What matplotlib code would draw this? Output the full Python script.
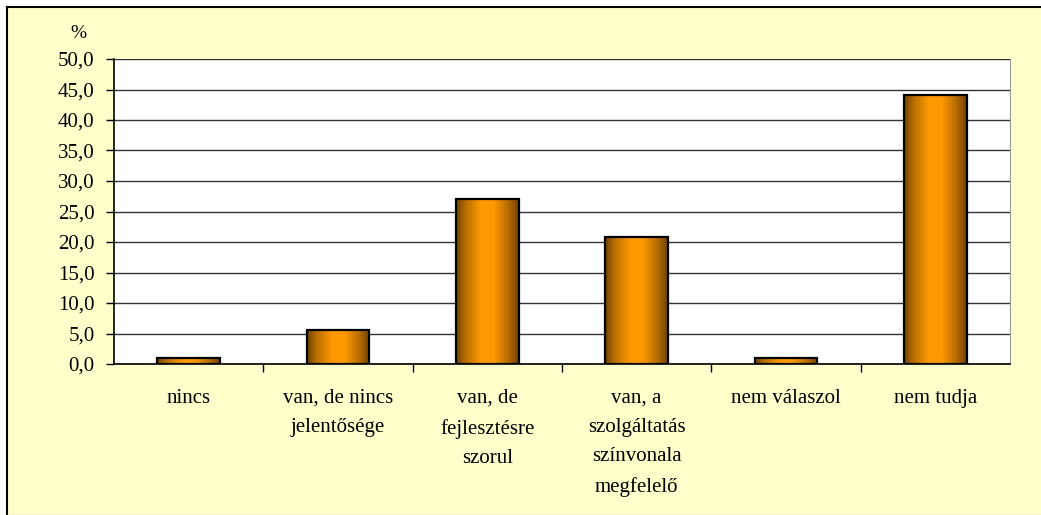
import numpy as np
import matplotlib.pyplot as plt
from matplotlib.patches import Rectangle
from matplotlib.colors import LinearSegmentedColormap
from matplotlib.ticker import FuncFormatter, FixedLocator

plt.rcParams['font.family'] = ['Liberation Serif', 'DejaVu Serif']

categories = ['nincs', 'van, de nincs\njelentősége', 'van, de\nfejlesztésre\nszorul',
              'van, a\nszolgáltatás\nszínvonala\nmegfelelő', 'nem válaszol', 'nem tudja']
values = [1.0, 5.5, 27.0, 20.8, 1.0, 44.1]
yticks = np.arange(0, 55, 5)

W, H = 1041, 515
fig = plt.figure(figsize=(W / 100, H / 100), dpi=100, facecolor='white')

# yellow chart area with black top/left frame
fig.add_artist(Rectangle((7 / W, 0), 1 - 7 / W, 1 - 7 / H, transform=fig.transFigure,
                         facecolor='#FFFFCC', edgecolor='none', zorder=-10))
fig.add_artist(plt.Line2D([7 / W, 1], [1 - 7 / H, 1 - 7 / H], transform=fig.transFigure,
                          color='black', lw=1.5, zorder=-5))
fig.add_artist(plt.Line2D([7 / W, 7 / W], [0, 1 - 7 / H], transform=fig.transFigure,
                          color='black', lw=1.5, zorder=-5))
fig.add_artist(plt.Line2D([7 / W, 1], [0.5 / H, 0.5 / H], transform=fig.transFigure,
                          color='#c8c8b0', lw=1, zorder=-5))

ax = fig.add_axes([114 / W, 1 - 364 / H, (1010 - 114) / W, (364 - 59) / H])
ax.set_facecolor('white')

x = np.arange(len(categories))
bars = ax.bar(x, values, width=0.42, facecolor='none', edgecolor='black', linewidth=1.6, zorder=3)

# horizontal shading on each bar
cmap = LinearSegmentedColormap.from_list('orange', [
    (0.0, '#6e4200'), (0.15, '#b86e00'), (0.4, '#ff9900'),
    (0.6, '#ff9900'), (0.85, '#b06800'), (1.0, '#6e4200')])
grad = np.linspace(0, 1, 256).reshape(1, -1)
for b in bars:
    x0, y0 = b.get_x(), b.get_y()
    im = ax.imshow(grad, cmap=cmap, aspect='auto', zorder=2,
                   extent=[x0, x0 + b.get_width(), y0, y0 + b.get_height()])
    im.set_clip_path(b)

ax.set_xlim(-0.5, len(categories) - 0.5)
ax.set_ylim(0, 50)
ax.set_yticks(yticks)
ax.yaxis.set_major_formatter(FuncFormatter(lambda v, p: f'{v:.1f}'.replace('.', ',')))
ax.grid(axis='y', color='#333333', linewidth=1.0, zorder=1)
ax.set_axisbelow(True)

ax.set_xticks(x)
ax.set_xticklabels(categories, fontsize=15, linespacing=1.72, va='top')
ax.tick_params(axis='x', which='major', length=0, pad=18)
ax.xaxis.set_minor_locator(FixedLocator(np.arange(0.5, len(categories) - 0.5, 1)))
ax.tick_params(axis='x', which='minor', length=6, width=1, direction='out')
ax.tick_params(axis='y', labelsize=15, length=6, width=1, pad=8)

ax.spines['top'].set_visible(False)
ax.spines['right'].set_color('#999999')
ax.spines['left'].set_linewidth(1.2)
ax.spines['bottom'].set_linewidth(1.2)

fig.text(78 / W, 1 - 33 / H, '%', fontsize=14, ha='center', va='center')

fig.savefig('out.png', dpi=100, facecolor=fig.get_facecolor())
